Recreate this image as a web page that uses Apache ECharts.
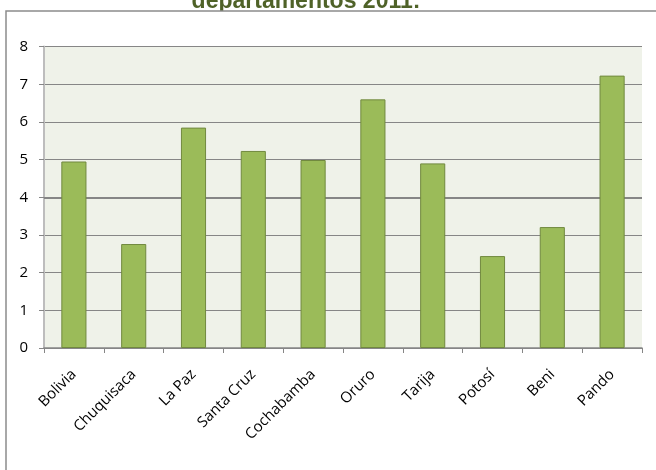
<!DOCTYPE html>
<html>
<head>
<meta charset="utf-8">
<script src="https://cdn.jsdelivr.net/npm/echarts@6/dist/echarts.min.js"></script>
<style>
html,body{margin:0;padding:0;background:#fff;}
#c{width:656px;height:470px;}
</style>
</head>
<body>
<div id="c"></div>
<script>
const titleText = 'departamentos 2011:';
const categories = ['Bolivia','Chuquisaca','La Paz','Santa Cruz','Cochabamba','Oruro','Tarija','Potosí','Beni','Pando'];
const values = [4.95, 2.76, 5.85, 5.23, 4.99, 6.6, 4.9, 2.44, 3.21, 7.23];
const yTicks = [0,1,2,3,4,5,6,7,8];

const chart = echarts.init(document.getElementById('c'), null, {renderer:'canvas'});
chart.setOption({
  animation:false,
  backgroundColor:'#ffffff',
  graphic:[
    {type:'text', z:-20, style:{text:titleText, x:306, y:13, align:'center', verticalAlign:'bottom', font:'bold 23px "Liberation Sans", Arial, sans-serif', fill:'#4f6228'}},
    {type:'rect', z:-10, shape:{x:6, y:11, width:700, height:500}, style:{fill:'#ffffff', stroke:'#8c8c8c', lineWidth:1.5}}
  ],
  grid:{left:44, right:14, top:46.6, bottom:122, show:true, backgroundColor:'#eff2e9', borderWidth:0},
  xAxis:{
    type:'category', data:categories,
    axisLine:{lineStyle:{color:'#868686', width:1.5}},
    axisTick:{show:true, length:5, alignWithLabel:false, lineStyle:{color:'#868686'}},
    axisLabel:{rotate:45, interval:0, margin:24, color:'#000', fontFamily:'Open Sans', fontSize:15}
  },
  yAxis:{
    type:'value', min:0, max:8, interval:1,
    axisLine:{show:true, lineStyle:{color:'#bdbdbd', width:2}},
    axisTick:{show:true, inside:false, length:5, lineStyle:{color:'#868686'}},
    splitLine:{show:true, lineStyle:{color:'#868686', width:1}},
    axisLabel:{margin:16, color:'#000', fontFamily:'Open Sans', fontSize:15,
      formatter:function(v){return yTicks.indexOf(v)>=0 ? String(v) : '';}}
  },
  series:[
    {type:'line', data:[], z:1, silent:true,
     markLine:{z:1, silent:true, symbol:['none','none'], label:{show:false},
       lineStyle:{color:'#868686', width:2, type:'solid'}, data:[{yAxis:4}]}},
    {type:'bar', data:values, z:3, barWidth:'42%',
     itemStyle:{color:'#9bbb59', borderColor:'#71893f', borderWidth:1}}
  ]
});
</script>
</body>
</html>
